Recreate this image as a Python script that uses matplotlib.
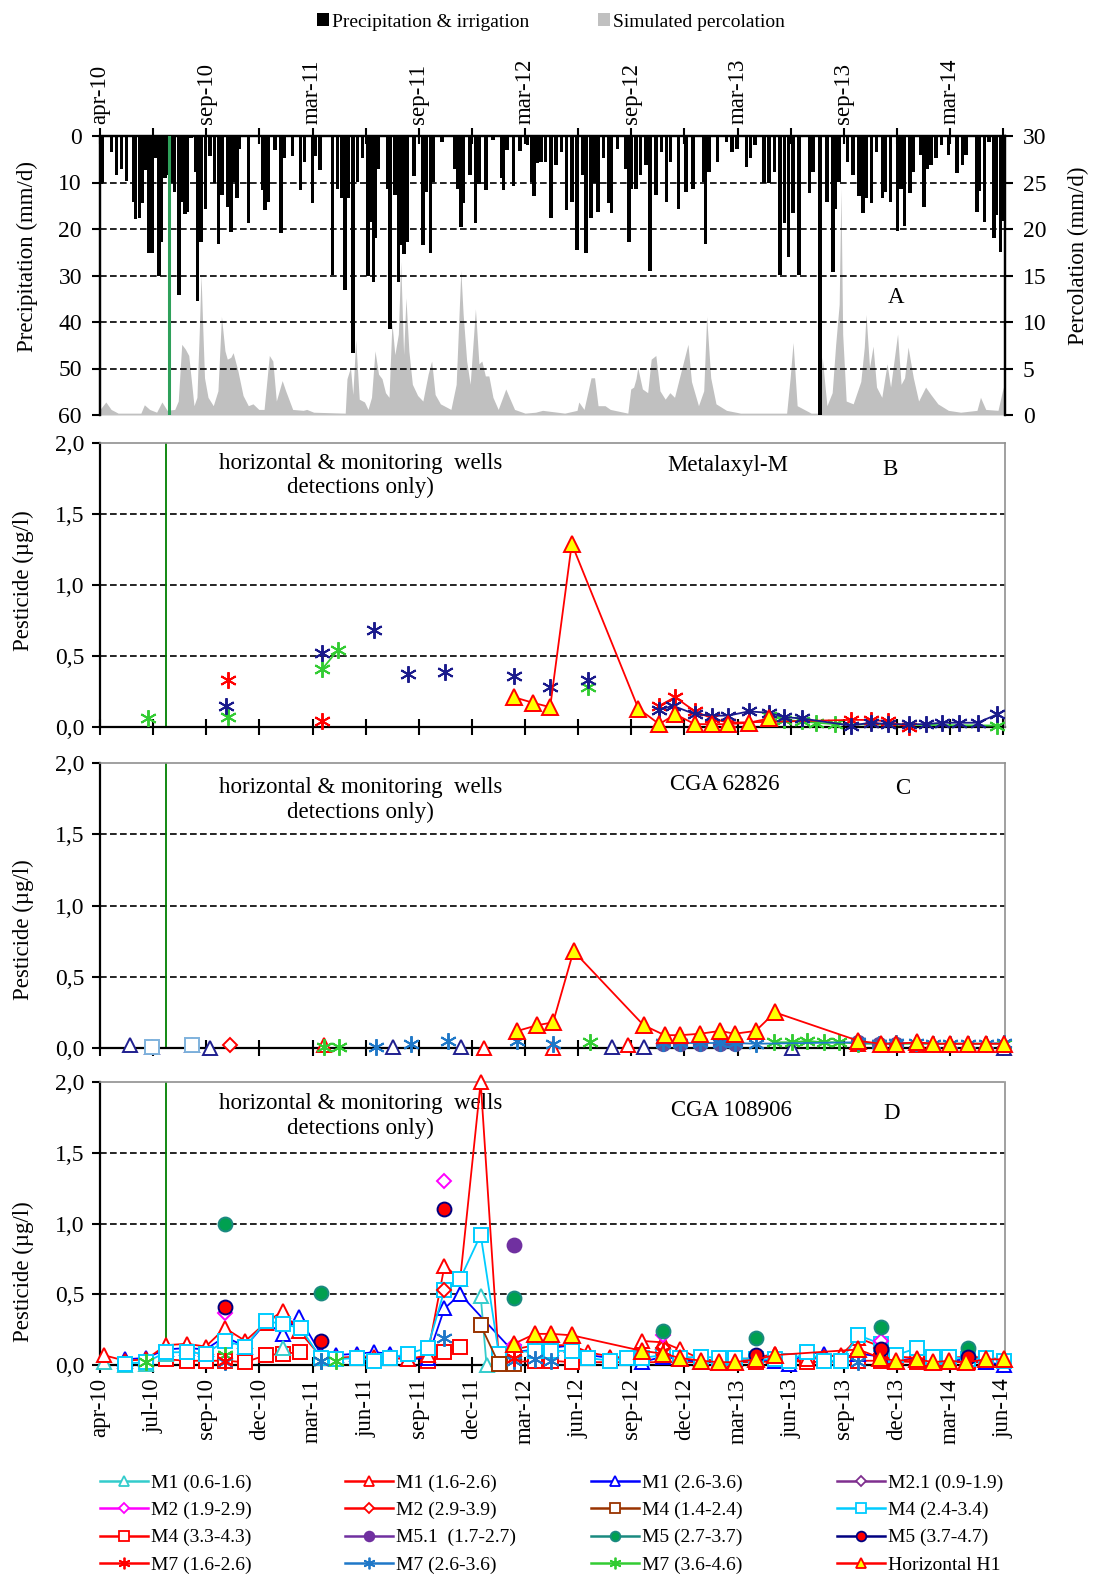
import numpy as np
import matplotlib
matplotlib.use('Agg')
import matplotlib.pyplot as plt
from matplotlib.lines import Line2D
from matplotlib.patches import Patch

plt.rcParams['font.family'] = ['Liberation Serif', 'DejaVu Sans']
plt.rcParams['font.size'] = 14

nan = np.nan

# x axis in days after 1 april 2010
tick_days = list(range(0, 1548, 91))
tick_labels = ['apr-10', 'jul-10', 'sep-10', 'dec-10', 'mar-11', 'jun-11', 'sep-11',
               'dec-11', 'mar-12', 'jun-12', 'sep-12', 'dec-12', 'mar-13', 'jun-13',
               'sep-13', 'dec-13', 'mar-14', 'jun-14']
green_day = 113

# panel A: precipitation & irrigation (mm/d)
precip_day = [2, 4, 20, 28, 37, 45, 57, 61, 68, 73,
              77, 84, 90, 96, 101, 105, 111, 117, 123, 128,
              135, 140, 146, 150, 156, 164, 167, 173, 181, 188,
              196, 203, 209, 218, 224, 228, 235, 239, 254, 278,
              283, 289, 300, 310, 316, 330, 343, 350, 364, 369,
              377, 398, 407, 414, 420, 426, 433, 441, 450, 459,
              465, 468, 472, 477, 492, 497, 505, 511, 515, 521,
              526, 538, 553, 559, 566, 571, 586, 607, 613, 618,
              622, 634, 643, 649, 661, 673, 688, 691, 697, 708,
              719, 732, 739, 743, 749, 755,
              763, 772, 781, 790, 799, 808, 817, 826, 832, 841,
              847, 853, 862, 871, 876, 886, 900, 906, 910, 918,
              926, 935, 942, 952, 962, 970, 977, 991, 1004, 1016,
              1034, 1037, 1043, 1058, 1073, 1082, 1091, 1107, 1114, 1122,
              1137, 1146, 1155, 1165, 1172, 1179, 1187, 1197, 1215, 1221,
              1233, 1245, 1255, 1260, 1266, 1280, 1290, 1300, 1307, 1313,
              1321, 1330, 1340, 1345, 1354, 1366, 1372, 1378, 1387, 1393,
              1405, 1411, 1417, 1423, 1432, 1441, 1453, 1468, 1477, 1483,
              1502, 1506, 1515, 1523, 1531, 1535, 1542, 1547]
precip_mm = [10.4, 10, 3.4, 8.4, 7, 9.6, 14.1, 17.9, 17.7, 14.5,
             7.3, 25.2, 25.2, 4.8, 30, 22.7, 9.1, 8.4, 10.2, 12,
             34.2, 14.1, 16.8, 16.3, 0.5, 7.7, 35.4, 22.7, 15.6, 4.4,
             10.2, 23.2, 12.7, 15.2, 20.6, 9.8, 13.4, 2.7, 18.8, 11.6,
             15.9, 14.1, 3, 20.9, 4.8, 4.4, 11.6, 5.5, 14.5, 4.4,
             7.3, 29.9, 11.3, 13.4, 33.1, 13.4, 46.7, 9.8, 4.8, 30,
             18.4, 31.5, 22, 7, 11.3, 41.4, 12.7, 31.3, 23.4, 25.4,
             22.7, 8.7, 23.4, 12, 25.2, 9.8, 1.2, 7, 11.3, 19.5,
             14.5, 8.4, 18.8, 10.4, 11.6, 0.9, 9.1, 11.6, 3, 10.8,
             3.2, 1.9, 9.8, 13, 5.9, 5.5,
             5.5, 17.6, 6.2, 3.4, 15.9, 14.1, 24.5, 8.4, 25.2, 17.6,
             10.2, 16.3, 4.8, 14.5, 16.5, 2.7, 7, 22.7, 11.3, 11.4,
             8.4, 6.2, 29, 12.7, 3.4, 14.1, 5.5, 15.6, 12, 11.5,
             9.8, 23.2, 7.7, 5.5, 1.2, 3.4, 2.7, 6.7, 4.8, 1.9,
             10.2, 10.2, 7.7, 29.9, 18.8, 26, 16.6, 29.9, 12.3, 7.7,
             60, 14.1, 29.2, 15.6, 9.8, 5.5, 8.4, 13, 16.6, 13.4,
             14.5, 3.4, 13.4, 12, 14.1, 20.4, 11.3, 19.3, 12.3, 7.7,
             4.1, 15.2, 7, 6.2, 4.8, 1.9, 4.1, 8, 6.2, 4.1,
             16.3, 11.8, 18.6, 1.2, 22, 17, 25, 18.3]

# panel A: simulated percolation (mm/d)
perc_day = [0, 10, 19, 31, 70, 76, 85, 97, 106, 115,
            128, 134, 140, 146, 152, 156, 161, 166, 170, 173,
            176, 179, 185, 194, 202, 208, 214, 218, 224, 228,
            236, 245, 254, 262, 272, 281, 290, 296, 302, 312,
            318, 330, 348, 354, 366, 420, 423, 429, 433, 438,
            444, 453, 459, 465, 471, 477, 483, 489, 495, 500,
            505, 511, 515, 520, 524, 529, 535, 544, 553, 562,
            568, 574, 583, 601, 610, 618, 622, 628, 634, 643,
            649, 654, 660, 666, 673, 682, 695, 701, 710, 728,
            746, 758, 796, 817, 820, 829, 841, 847, 853, 865,
            874, 904, 909, 914, 918, 921, 929, 938, 944, 952,
            959, 968, 976, 984, 992, 1007, 1013, 1025, 1034, 1039,
            1046, 1055, 1073, 1097, 1176, 1182, 1187, 1194, 1218, 1233,
            1237, 1245, 1254, 1260, 1266, 1269, 1272, 1278, 1290, 1303,
            1309, 1312, 1318, 1324, 1330, 1339, 1348, 1354, 1363, 1366,
            1372, 1378, 1384, 1393, 1402, 1414, 1423, 1435, 1453, 1474,
            1502, 1508, 1517, 1538, 1547, 1550]
perc_mm = [0.6, 1.4, 0.6, 0.2, 0.2, 1.1, 0.6, 0.3, 1.4, 0.5,
           0.6, 1.5, 7.6, 7.1, 6.4, 4.0, 1.0, 1.9, 8.9, 15.1,
           9.4, 4.0, 1.9, 1.0, 2.6, 10.6, 6.9, 6.0, 6.2, 6.7,
           4.8, 2.1, 1.0, 1.2, 0.6, 0.6, 6.4, 5.8, 1.5, 3.7,
           2.6, 0.6, 0.5, 0.6, 0.3, 0.2, 3.9, 5.1, 2.2, 8.1,
           1.7, 1.4, 0.6, 1.9, 6.9, 4.4, 3.9, 2.4, 1.9, 9.9,
           6.5, 8.7, 16.5, 6.5, 12.6, 6.9, 3.3, 2.1, 1.5, 4.4,
           5.8, 2.2, 1.2, 0.6, 3.3, 15.5, 10.8, 5.8, 3.3, 11.4,
           5.5, 5.8, 4.2, 4.2, 1.9, 0.6, 2.8, 1.9, 0.6, 0.2,
           0.3, 0.5, 0.2, 0.5, 1.4, 0.6, 4.0, 4.0, 1.0, 1.0,
           0.6, 0.2, 2.8, 3.0, 3.9, 5.1, 2.8, 2.4, 6.0, 6.4,
           2.6, 1.7, 2.4, 1.9, 3.9, 7.6, 3.6, 1.0, 2.6, 10.6,
           4.0, 1.2, 0.5, 0.2, 0.2, 4.0, 7.8, 1.0, 0.2, 0.2,
           6.2, 1.0, 2.4, 7.6, 11.9, 24.4, 8.7, 1.5, 1.2, 3.6,
           7.3, 10.8, 5.1, 7.4, 3.0, 1.9, 5.5, 3.0, 7.3, 8.7,
           3.3, 4.0, 7.3, 4.0, 1.5, 3.0, 2.2, 1.2, 0.5, 0.3,
           0.5, 1.9, 0.6, 0.5, 3.0, 0.0]

# panel B: Metalaxyl-M (ug/l)
B_h1_day = [709, 742, 771, 808, 922, 958, 985, 1019, 1049, 1076, 1111, 1146]
B_h1_val = [0.21, 0.17, 0.14, 1.29, 0.13, 0.02, 0.09, 0.02, 0.02, 0.02, 0.03, 0.06]
B_m7red_pts_day = [219, 381]
B_m7red_pts_val = [0.33, 0.04]
B_m7red_day = [958, 985, 1019, 1049, 1076, 1286, 1320, 1349, 1385]
B_m7red_val = [0.15, 0.21, 0.11, 0.06, 0.03, 0.05, 0.05, 0.04, 0.0]
B_m7navy_pts_day = [215, 381, 470, 527, 591, 709, 771, 835]
B_m7navy_pts_val = [0.15, 0.52, 0.68, 0.37, 0.39, 0.36, 0.28, 0.33]
B_m7navy_day = [958, 981, 1019, 1049, 1076, 1111, 1146, 1171, 1202, 1286,
                1320, 1349, 1385, 1414, 1442, 1471, 1503, 1537]
B_m7navy_val = [0.12, 0.15, 0.09, 0.08, 0.08, 0.11, 0.10, 0.07, 0.06, 0.01,
                0.03, 0.02, 0.02, 0.02, 0.03, 0.03, 0.03, 0.09]
B_m7green_pts_day = [83, 219, 835]
B_m7green_pts_val = [0.06, 0.07, 0.28]
B_m7green_day = [381, 407, nan, 1146, 1171, 1202, 1227, 1259, 1537]
B_m7green_val = [0.41, 0.54, nan, 0.08, 0.05, 0.04, 0.03, 0.02, 0.01]

# panel C: CGA 62826 (ug/l)
C_h1_day = [715, 749, 776, 811, 931, 967, 994, 1028, 1062, 1087, 1123, 1156,
            1299, 1337, 1363, 1400, 1427, 1455, 1487, 1517, 1548]
C_h1_val = [0.12, 0.16, 0.18, 0.68, 0.16, 0.09, 0.09, 0.10, 0.12, 0.10, 0.12, 0.25,
            0.05, 0.03, 0.03, 0.04, 0.03, 0.03, 0.03, 0.03, 0.03]
C_m7blue_pts_day = [473, 533, 596, 715, 776]
C_m7blue_pts_val = [0.01, 0.03, 0.05, 0.05, 0.03]
C_m7blue_day = [965, 994, 1028, 1062, 1087, 1123, 1299, 1335, 1363, 1397, 1427, 1455, 1487, 1517, 1548]
C_m7blue_val = [0.035, 0.035, 0.035, 0.035, 0.035, 0.03, 0.04, 0.03, 0.035, 0.035, 0.03, 0.03, 0.03, 0.03, 0.035]
C_m7green_pts_day = [384, 409, 840]
C_m7green_pts_val = [0.01, 0.01, 0.04]
C_m7green_day = [1154, 1186, 1211, 1240, 1266, 1299, 1548]
C_m7green_val = [0.04, 0.04, 0.05, 0.04, 0.04, 0.03, 0.03]
C_m1navy_day = [52, 89, 158, 189, 501, 619, 877, 931, 1186, 1548]
C_m1navy_val = [0.02, 0.01, 0.02, 0.0, 0.01, 0.01, 0.01, 0.01, 0.0, 0.0]
C_m4_day = [89, 158]
C_m4_val = [0.01, 0.02]
C_m2red_day = [223]
C_m2red_val = [0.02]
C_m1red_day = [384, 658, 776, 904, 1299, 1400, 1455, 1517]
C_m1red_val = [0.02, 0.0, 0.0, 0.02, 0.03, 0.02, 0.03, 0.03]
C_m5_day = [965, 994, 1028, 1062, 1087, 1299, 1335, 1363]
C_m5_val = [0.03, 0.03, 0.03, 0.03, 0.03, 0.04, 0.03, 0.03]

# panel D: CGA 108906 (ug/l)
D_m1a_pts_day = [6, 43, 79, 113, 313]
D_m1a_pts_val = [0.02, 0.0, 0.01, 0.08, 0.12]
D_m1a_day = [652, 662]
D_m1a_val = [0.49, 0.0]
D_m1b_day = [6, 43, 79, 113, 149, 181, 214, 249, 284, 313,
             341, 378, 404, 441, 470, 497, 527, 561, 590, 617,
             652, 683, 709, 745, 773, 808, 836, 874, 902, 928,
             965, 993, 1030, 1060, 1087, 1124, 1156, 1180, 1211, 1240,
             1269, 1299, 1337, 1363, 1400, 1427, 1454, 1487, 1518, 1548]
D_m1b_val = [0.07, 0.03, 0.04, 0.14, 0.15, 0.13, 0.26, 0.17, 0.30, 0.38,
             0.24, 0.06, 0.05, 0.06, 0.06, 0.05, 0.04, 0.07, 0.70, 0.61,
             2.0, 0.04, 0.11, 0.14, 0.14, 0.14, 0.09, 0.06, 0.05, 0.17,
             0.16, 0.11, 0.04, 0.03, 0.04, 0.05, 0.08, 0.03, 0.04, 0.06,
             0.07, 0.19, 0.13, 0.06, 0.05, 0.04, 0.05, 0.06, 0.05, 0.04]
D_m1c_day = [43, 79, 113, 149, 181, 214, 249, 284, 313, 341,
             378, 404, 441, 470, 497, 527, 561, 590, 617, 709,
             745, 773, 808, 836, 874, 902, 928, 965, 993, 1030,
             1060, 1087, 1124, 1156, 1180, 1211, 1240, 1269, 1299, 1337,
             1363, 1400, 1427, 1454, 1487, 1518, 1548]
D_m1c_val = [0.04, 0.05, 0.11, 0.12, 0.11, 0.20, 0.13, 0.30, 0.22, 0.34,
             0.08, 0.07, 0.08, 0.09, 0.08, 0.04, 0.05, 0.40, 0.50, 0.09,
             0.11, 0.12, 0.14, 0.07, 0.05, 0.05, 0.02, 0.06, 0.04, 0.02,
             0.02, 0.02, 0.04, 0.03, 0.01, 0.09, 0.08, 0.05, 0.08, 0.06,
             0.03, 0.05, 0.02, 0.03, 0.04, 0.02, 0.0]
D_m4b_day = [43, 79, 113, 149, 181, 214, 249, 284, 313, 344,
             378, 404, 441, 470, 497, 527, 561, 590, 617, 652,
             683, 709, 745, 773, 808, 836, 874, 902, 928, 965,
             993, 1030, 1060, 1087, 1124, 1156, 1180, 1211, 1240, 1269,
             1299, 1337, 1363, 1400, 1427, 1454, 1487, 1518, 1548]
D_m4b_val = [0.01, 0.02, 0.09, 0.09, 0.08, 0.17, 0.13, 0.31, 0.29, 0.26,
             0.05, 0.04, 0.05, 0.03, 0.05, 0.08, 0.12, 0.53, 0.61, 0.92,
             0.08, 0.09, 0.10, 0.10, 0.10, 0.05, 0.03, 0.05, 0.05, 0.07,
             0.05, 0.06, 0.05, 0.05, 0.04, 0.04, 0.03, 0.09, 0.03, 0.03,
             0.21, 0.15, 0.07, 0.12, 0.06, 0.06, 0.04, 0.05, 0.03]
D_m4c_day = [113, 149, 181, 214, 249, 284, 313, 342, nan, 561, 590, 617, nan,
             709, 745, 773, 808, 1124, 1180, 1211, 1299, 1337, 1400, 1454, 1487, 1518]
D_m4c_val = [0.04, 0.03, 0.03, 0.03, 0.02, 0.07, 0.08, 0.09, nan, 0.03, 0.09, 0.13, nan,
             0.02, 0.03, 0.03, 0.02, 0.02, 0.03, 0.02, 0.03, 0.03, 0.02, 0.02, 0.02, 0.02]
D_m4a_day = [652, 683, 709]
D_m4a_val = [0.28, 0.01, 0.01]
D_m2b_day = [214, 590, 709, 965, 1337]
D_m2b_val = [0.37, 1.30, 0.14, 0.21, 0.17]
D_m2c_day = [590, 965, 1337]
D_m2c_val = [0.53, 0.12, 0.12]
D_m51_day = [709]
D_m51_val = [0.85]
D_m5b_day = [214, 378, 709, 965, 1124, 1337, 1487]
D_m5b_val = [1.0, 0.51, 0.47, 0.24, 0.19, 0.27, 0.12]
D_m5c_day = [214, 378, 590, 1124, 1337, 1487]
D_m5c_val = [0.41, 0.17, 1.10, 0.07, 0.11, 0.06]
D_m7a_day = [214, 709, 965, 1337]
D_m7a_val = [0.03, 0.05, 0.10, 0.08]
D_m7b_day = [214, 378, 590, 709, 745, 773, 1299]
D_m7b_val = [0.02, 0.03, 0.19, 0.03, 0.04, 0.03, 0.02]
D_m7c_day = [79, 214, 378, 404]
D_m7c_val = [0.02, 0.07, 0.03, 0.03]
D_h1_day = [709, 745, 773, 808, 928, 965, 993, 1030, 1060, 1087, 1124,
            1156, 1299, 1336, 1363, 1400, 1427, 1454, 1484, 1518, 1548]
D_h1_val = [0.15, 0.22, 0.22, 0.21, 0.10, 0.08, 0.05, 0.03, 0.02, 0.02, 0.04,
            0.07, 0.11, 0.05, 0.03, 0.04, 0.02, 0.03, 0.02, 0.04, 0.04]

labels = ['M1 (0.6-1.6)', 'M1 (1.6-2.6)', 'M1 (2.6-3.6)', 'M2.1 (0.9-1.9)',
          'M2 (1.9-2.9)', 'M2 (2.9-3.9)', 'M4 (1.4-2.4)', 'M4 (2.4-3.4)',
          'M4 (3.3-4.3)', 'M5.1  (1.7-2.7)', 'M5 (2.7-3.7)', 'M5 (3.7-4.7)',
          'M7 (1.6-2.6)', 'M7 (2.6-3.6)', 'M7 (3.6-4.6)', 'Horizontal H1']

ast = (6, 2, 0)
style = {
    'M1 (0.6-1.6)': ('#33CCCC', '^', 'white', '#33CCCC'),
    'M1 (1.6-2.6)': ('#FF0000', '^', 'white', '#FF0000'),
    'M1 (2.6-3.6)': ('#0000FF', '^', 'white', '#0000FF'),
    'M2.1 (0.9-1.9)': ('#7F2F8F', 'D', 'white', '#7F2F8F'),
    'M2 (1.9-2.9)': ('#FF00FF', 'D', 'white', '#FF00FF'),
    'M2 (2.9-3.9)': ('#FF0000', 'D', 'white', '#FF0000'),
    'M4 (1.4-2.4)': ('#993300', 's', 'white', '#993300'),
    'M4 (2.4-3.4)': ('#00CCFF', 's', 'white', '#00CCFF'),
    'M4 (3.3-4.3)': ('#FF0000', 's', 'white', '#FF0000'),
    'M5.1  (1.7-2.7)': ('#7030A0', 'o', '#7030A0', '#7030A0'),
    'M5 (2.7-3.7)': ('#1A8A80', 'o', '#00A050', '#1A8A80'),
    'M5 (3.7-4.7)': ('#000080', 'o', '#FF0000', '#000080'),
    'M7 (1.6-2.6)': ('#FF0000', ast, 'none', '#FF0000'),
    'M7 (2.6-3.6)': ('#1F78C8', ast, 'none', '#1F78C8'),
    'M7 (3.6-4.6)': ('#33CC33', ast, 'none', '#33CC33'),
    'Horizontal H1': ('#FF0000', '^', '#FFFF00', '#FF0000'),
}
msize = {'^': 10, 'D': 7.5, 's': 10, 'o': 10, ast: 12}

W, H = 1095, 1576
TICK = 17
LAB = 16.5
XT = 16.5


def box(left, top, right, bottom):
    return [left / W, 1 - bottom / H, (right - left) / W, (bottom - top) / H]


def draw(ax, label, days, vals, line=True, color=None, z=3):
    c, m, fc, ec = style[label]
    if color is not None:
        c = color
        ec = color
    ms = msize[m]
    if label == 'Horizontal H1':
        ms = 12
    ax.plot(days, vals, ls='-' if line else 'none', lw=1.3, color=c, marker=m,
            ms=ms, mfc=fc, mec=ec, mew=1.4, clip_on=False, zorder=z)


fig = plt.figure(figsize=(W / 100, H / 100), dpi=100)

# ---------- panel A ----------
ax = fig.add_axes(box(100, 136, 1005, 415))
ax2 = ax.twinx()
ax2.fill_between(perc_day, perc_mm, 0, color='#C0C0C0', lw=0)
ax2.set_ylim(0, 30)
ax2.set_yticks(range(0, 31, 5))
ax2.tick_params(axis='y', direction='out', length=6, width=1.5, pad=7, labelsize=TICK)
ax.set_zorder(ax2.get_zorder() + 1)
ax.patch.set_visible(False)

ax.bar(precip_day, precip_mm, width=6, color='black', lw=0, zorder=3)
for v in range(10, 60, 10):
    ax.axhline(v, color='black', ls=(0, (4, 2)), lw=1.2, zorder=2)
ax.axvline(green_day + 5, color='#2EA05A', lw=2.2, zorder=4)
ax.set_ylim(60, 0)
ax.set_xlim(0, 1550)
ax.set_yticks(range(0, 61, 10))
ax.tick_params(axis='y', direction='out', length=6, width=1.5, pad=7, labelsize=TICK)
ax.xaxis.tick_top()
ax.set_xticks(tick_days)
ax.set_xticklabels([l if i % 2 == 0 else '' for i, l in enumerate(tick_labels)], rotation=90)
ax.tick_params(axis='x', direction='inout', length=11, width=1.5, pad=3, labelsize=XT)
for s in ['left', 'top', 'right']:
    ax.spines[s].set_linewidth(1.6)
    ax2.spines[s].set_linewidth(1.6)
ax.spines['bottom'].set_visible(False)
ax2.spines['bottom'].set_visible(False)
ax.text(0.88, 0.42, 'A', transform=ax.transAxes, ha='center', va='center', fontsize=LAB)
fig.text(27 / W, 1 - 256 / H, 'Precipitation (mm/d)', rotation=90, ha='center', va='center', fontsize=LAB)
fig.text(1078 / W, 1 - 256 / H, 'Percolation (mm/d)', rotation=90, ha='center', va='center', fontsize=LAB)

fig.legend(handles=[Patch(facecolor='black'), Patch(facecolor='#C0C0C0')],
           labels=['Precipitation & irrigation', 'Simulated percolation'],
           loc='center', bbox_to_anchor=(551 / W, 1 - 22 / H), ncol=2, frameon=False,
           handlelength=0.65, handleheight=0.65, handletextpad=0.15, columnspacing=3.5,
           fontsize=14)


# ---------- panels B-D ----------
def pest_axes(top, bottom, name, letter, name_xy, letter_xy, note_y, label_y):
    a = fig.add_axes(box(100, top, 1005, bottom))
    a.set_xlim(0, 1550)
    a.set_ylim(0, 2.0)
    for v in [0.5, 1.0, 1.5]:
        a.axhline(v, color='black', ls=(0, (4, 2)), lw=1.2, zorder=1)
    a.axvline(green_day, color='#008000', lw=1.3, zorder=1)
    a.set_yticks([0, 0.5, 1.0, 1.5, 2.0])
    a.set_yticklabels(['0,0', '0,5', '1,0', '1,5', '2,0'])
    a.set_xticks(tick_days)
    a.tick_params(axis='y', direction='out', length=6, width=1.5, pad=5, labelsize=TICK)
    a.tick_params(axis='x', direction='inout', length=11, width=1.5, labelsize=XT)
    a.spines['left'].set_linewidth(1.6)
    a.spines['bottom'].set_linewidth(1.6)
    a.spines['bottom'].set_zorder(2)
    for s in ['top', 'right']:
        a.spines[s].set_color('#909090')
        a.spines[s].set_linewidth(1.2)
    a.text(0.288, note_y, 'horizontal & monitoring  wells\ndetections only)',
           transform=a.transAxes, ha='center', va='center', fontsize=LAB, linespacing=1.2)
    a.text(name_xy[0], name_xy[1], name, transform=a.transAxes, ha='center', va='center', fontsize=LAB)
    a.text(letter_xy[0], letter_xy[1], letter, transform=a.transAxes, ha='center', va='center', fontsize=LAB)
    fig.text(23 / W, 1 - label_y / H, 'Pesticide (\u00b5g/l)', rotation=90, ha='center', va='center', fontsize=LAB)
    return a


axB = pest_axes(443, 727, 'Metalaxyl-M', 'B', (0.694, 0.92), (0.873, 0.905), 0.885, 581)
axB.set_xticklabels([])
draw(axB, 'M7 (3.6-4.6)', B_m7green_pts_day, B_m7green_pts_val, line=False)
draw(axB, 'M7 (3.6-4.6)', B_m7green_day, B_m7green_val)
draw(axB, 'M7 (1.6-2.6)', B_m7red_pts_day, B_m7red_pts_val, line=False)
draw(axB, 'M7 (1.6-2.6)', B_m7red_day, B_m7red_val)
draw(axB, 'M7 (2.6-3.6)', B_m7navy_pts_day, B_m7navy_pts_val, line=False, color='#1A1A8C')
draw(axB, 'M7 (2.6-3.6)', B_m7navy_day, B_m7navy_val, color='#1A1A8C')
draw(axB, 'Horizontal H1', B_h1_day, B_h1_val, z=5)

axC = pest_axes(763, 1048, 'CGA 62826', 'C', (0.69, 0.926), (0.887, 0.912), 0.87, 930)
axC.set_xticklabels([])
draw(axC, 'M1 (2.6-3.6)', C_m1navy_day, C_m1navy_val, line=False, color='#1F1F8F')
draw(axC, 'M4 (2.4-3.4)', C_m4_day, C_m4_val, line=False, color='#7FB2DD')
draw(axC, 'M2 (2.9-3.9)', C_m2red_day, C_m2red_val, line=False)
draw(axC, 'M1 (1.6-2.6)', C_m1red_day, C_m1red_val, line=False)
draw(axC, 'M7 (3.6-4.6)', C_m7green_pts_day, C_m7green_pts_val, line=False)
draw(axC, 'M7 (3.6-4.6)', C_m7green_day, C_m7green_val)
axC.plot(C_m5_day, C_m5_val, ls='none', marker='o', ms=10, color='#5A4FA0', clip_on=False, zorder=3)
draw(axC, 'M7 (2.6-3.6)', C_m7blue_pts_day, C_m7blue_pts_val, line=False)
draw(axC, 'M7 (2.6-3.6)', C_m7blue_day, C_m7blue_val)
draw(axC, 'Horizontal H1', C_h1_day, C_h1_val, z=5)

axD = pest_axes(1082, 1365, 'CGA 108906', 'D', (0.698, 0.9), (0.875, 0.89), 0.88, 1272)
axD.set_xticklabels(tick_labels, rotation=90)
axD.tick_params(axis='x', pad=4)
axD.spines['top'].set_linestyle((0, (2, 1)))
draw(axD, 'M4 (3.3-4.3)', D_m4c_day, D_m4c_val)
draw(axD, 'M1 (2.6-3.6)', D_m1c_day, D_m1c_val)
draw(axD, 'M1 (0.6-1.6)', D_m1a_pts_day, D_m1a_pts_val, line=False)
draw(axD, 'M1 (0.6-1.6)', D_m1a_day, D_m1a_val)
draw(axD, 'M1 (1.6-2.6)', D_m1b_day, D_m1b_val)
draw(axD, 'M4 (2.4-3.4)', D_m4b_day, D_m4b_val)
draw(axD, 'M4 (1.4-2.4)', D_m4a_day, D_m4a_val)
draw(axD, 'M2 (2.9-3.9)', D_m2c_day, D_m2c_val, line=False)
draw(axD, 'M2 (1.9-2.9)', D_m2b_day, D_m2b_val, line=False)
draw(axD, 'M7 (3.6-4.6)', D_m7c_day, D_m7c_val, line=False)
draw(axD, 'M7 (2.6-3.6)', D_m7b_day, D_m7b_val, line=False)
draw(axD, 'M7 (1.6-2.6)', D_m7a_day, D_m7a_val, line=False)
draw(axD, 'M5.1  (1.7-2.7)', D_m51_day, D_m51_val, line=False, z=4)
draw(axD, 'M5 (2.7-3.7)', D_m5b_day, D_m5b_val, line=False, z=4)
draw(axD, 'M5 (3.7-4.7)', D_m5c_day, D_m5c_val, line=False, z=4)
draw(axD, 'Horizontal H1', D_h1_day, D_h1_val, z=5)

# ---------- legend ----------
handles = []
for lab in labels:
    c, m, fc, ec = style[lab]
    handles.append(Line2D([], [], color=c, lw=1.8, marker=m, ms=msize[m] * 0.7,
                          mfc=fc, mec=ec, mew=1.3))
col_x = [100, 345, 591, 837]
for c in range(4):
    fig.legend(handles=handles[c::4], labels=labels[c::4], loc='upper left',
               bbox_to_anchor=(col_x[c] / W, 1 - 1474 / H), frameon=False,
               handlelength=2.45, handletextpad=0.15, labelspacing=0.5,
               borderpad=0, borderaxespad=0, fontsize=14)

fig.savefig('out.png', dpi=100)
